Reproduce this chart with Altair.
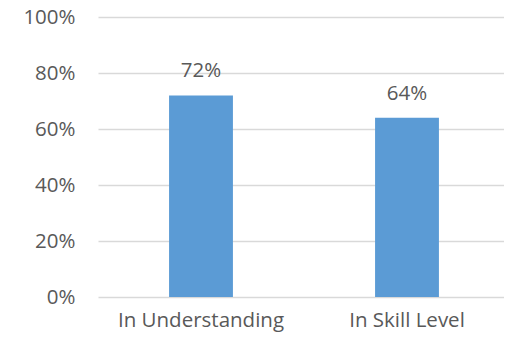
import altair as alt
import pandas as pd

categories = ["In Understanding", "In Skill Level"]
values = [0.72, 0.64]
labels = ["72%", "64%"]

df = pd.DataFrame({"cat": categories, "val": values, "lab": labels})

FONT = "Open Sans"
TXT = "#595959"
FS = 20.5

base = alt.Chart(df).encode(
    x=alt.X("cat:N", sort=categories, title=None,
            scale=alt.Scale(paddingInner=0.69, paddingOuter=0.345, range=[0, 412]),
            axis=alt.Axis(labelAngle=0, ticks=False, domain=False, labelFont=FONT,
                          labelFontSize=FS, labelColor=TXT, labelPadding=13)),
)

bars = base.mark_bar(color="#5B9BD5").encode(
    y=alt.Y("val:Q", title=None,
            scale=alt.Scale(domain=[0, 1]),
            axis=alt.Axis(format="%", values=[0, 0.2, 0.4, 0.6, 0.8, 1.0], ticks=False,
                          domain=False, grid=True, gridColor="#D9D9D9", gridWidth=1.5,
                          labelFont=FONT, labelFontSize=FS, labelColor=TXT, labelPadding=23))
)

text = base.mark_text(font=FONT, fontSize=FS, color=TXT, dy=-24).encode(
    y="val:Q", text="lab:N"
)

chart = (bars + text).properties(
    width=406, height=280,
    autosize="none",
    padding={"left": 90, "top": 9, "right": 0, "bottom": 36},
).configure_view(stroke=None)

chart.save("out.html", embed_options={"renderer": "svg", "actions": False})
